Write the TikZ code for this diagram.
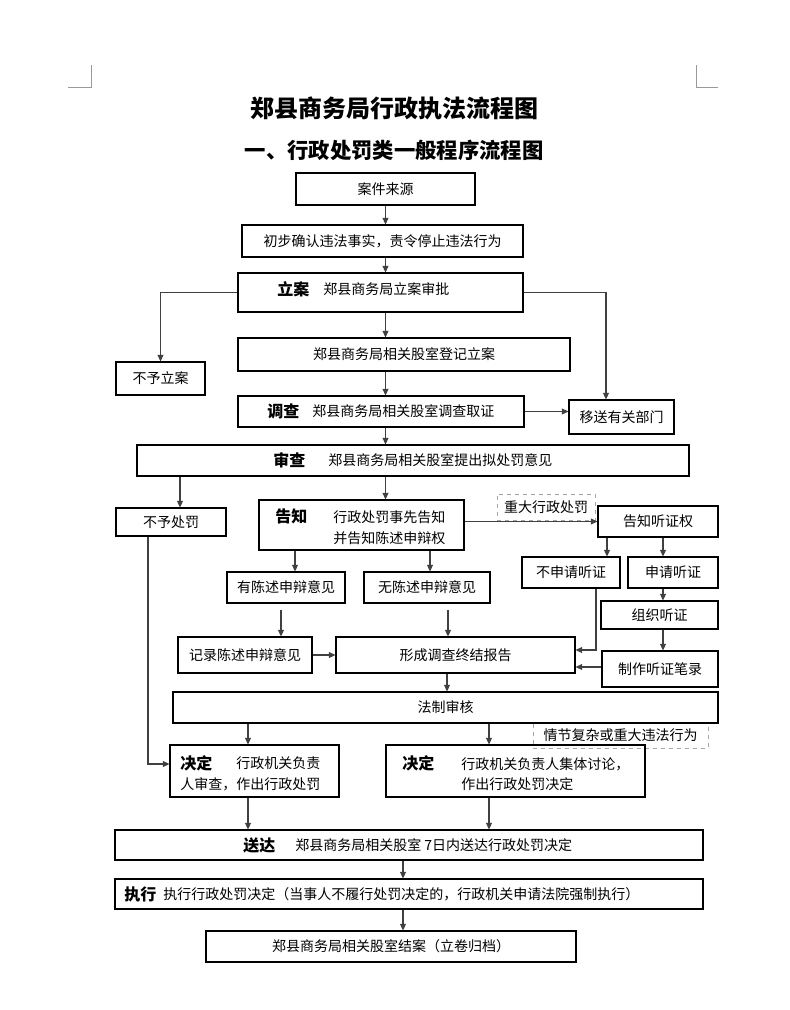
\documentclass[tikz,border=0pt]{standalone}
\usepackage{fontspec}
\newfontfamily\cjk{Noto Sans CJK SC}
\usetikzlibrary{arrows.meta, calc}

\tikzset{
  box/.style={draw, line width=0.8pt, inner sep=0pt, align=center, font=\cjk\fontsize{10.5}{15}\selectfont},
  dashbox/.style={draw=black!35, dashed, line width=0.5pt, inner sep=0pt, font=\cjk\fontsize{10.5}{15}\selectfont},
  sz/.style 2 args={minimum width=#1*0.75pt, minimum height=#2*0.75pt},
  tag/.style={font=\cjk\bfseries\fontsize{12}{14}\selectfont, inner sep=0pt, anchor=west},
  txt/.style={font=\cjk\fontsize{10.5}{15}\selectfont, inner sep=0pt, anchor=west},
  arr/.style={draw=black!75, line width=0.8pt, -{Triangle[length=5pt,width=4.5pt]}},
  ln/.style={draw=black!75, line width=0.8pt},
}

\begin{document}
\begin{tikzpicture}[x=0.75pt, y=-0.75pt]
\useasboundingbox (0,0) rectangle (789,1010);

% page corner marks
\draw[black!40, line width=0.5pt] (68,87) -- (91,87) -- (91,65);
\draw[black!40, line width=0.5pt] (696,65) -- (696,87) -- (718,87);

% titles
\node[font=\cjk\bfseries\fontsize{18}{20}\selectfont] (title) at (394,108) {郑县商务局行政执法流程图};
\node[font=\cjk\bfseries\fontsize{16}{18}\selectfont] (subtitle) at (394,150) {一、行政处罚类一般程序流程图};

% case filing
\node[box, sz={179}{32}] (src) at (385.5,189) {案件来源};
\node[box, sz={281}{32}] (confirm) at (382.5,241) {初步确认违法事实，责令停止违法行为};
\node[box, sz={285}{39}] (lian) at (380.5,292.5) {};
\node[tag] (lian-t) at (277,289) {立案};
\node[txt] (lian-x) at (323,289) {郑县商务局立案审批};
\node[box, sz={89}{33}] (buyulian) at (160.5,378.5) {不予立案};
\node[box, sz={332}{33}] (dengji) at (404,354.5) {郑县商务局相关股室登记立案};

% investigation
\node[box, sz={286}{31}] (diaocha) at (381,411.5) {};
\node[tag] (diaocha-t) at (267,411) {调查};
\node[txt] (diaocha-x) at (312,411) {郑县商务局相关股室调查取证};
\node[box, sz={105}{34}] (yisong) at (621.5,417) {移送有关部门};

% review
\node[box, sz={552}{31}] (shencha) at (413,460.5) {};
\node[tag] (shencha-t) at (273,460) {审查};
\node[txt] (shencha-x) at (328,460) {郑县商务局相关股室提出拟处罚意见};
\node[box, sz={110}{28}] (buyuchufa) at (171,522) {不予处罚};

% notification
\node[box, sz={205}{50}] (gaozhi) at (361.5,525) {};
\node[tag] (gaozhi-t) at (275,516) {告知};
\node[txt] (gaozhi-x1) at (333,517) {行政处罚事先告知};
\node[txt] (gaozhi-x2) at (333,538) {并告知陈述申辩权};
\node[box, sz={118}{31}] (you) at (286,587.5) {有陈述申辩意见};
\node[box, sz={126}{31}] (wu) at (427,587.5) {无陈述申辩意见};
\node[box, sz={134}{36}] (jilu) at (245,655) {记录陈述申辩意见};
\node[box, sz={239}{36}] (xc) at (455.5,655) {形成调查终结报告};

% hearing
\node[dashbox, sz={98}{26}] (zd) at (546,507) {重大行政处罚};
\node[box, sz={120}{31}] (tzq) at (658,521.5) {告知听证权};
\node[box, sz={98}{31}] (bsq) at (571,572.5) {不申请听证};
\node[box, sz={90}{31}] (sq) at (673,572.5) {申请听证};
\node[box, sz={117}{28}] (zuzhi) at (659.5,615) {组织听证};
\node[box, sz={116}{36}] (zhizuo) at (660,669) {制作听证笔录};

% legal check and decision
\node[dashbox, sz={175}{25}] (qj) at (620.5,735.5) {情节复杂或重大违法行为};
\node[box, fill=white, sz={545}{31}] (fazhi) at (445.5,707.5) {法制审核};
\node[box, sz={169}{52}] (jd1) at (254.5,771) {};
\node[tag] (jd1-t) at (180,763) {决定};
\node[txt] (jd1-x1) at (236,763) {行政机关负责};
\node[txt] (jd1-x2) at (180,784) {人审查，作出行政处罚};
\node[box, sz={259}{52}] (jd2) at (515.5,771) {};
\node[tag] (jd2-t) at (402,763) {决定};
\node[txt] (jd2-x1) at (461,764) {行政机关负责人集体讨论，};
\node[txt] (jd2-x2) at (461,784) {作出行政处罚决定};

% delivery, execution, closing
\node[box, sz={588}{30}] (songda) at (409,845) {};
\node[tag] (songda-t) at (243,845) {送达};
\node[txt] (songda-x) at (295,845) {郑县商务局相关股室 7日内送达行政处罚决定};
\node[box, sz={588}{30}] (zhixing) at (409,894) {};
\node[tag] (zhixing-t) at (124,894) {执行};
\node[txt] (zhixing-x) at (163,894) {执行行政处罚决定（当事人不履行处罚决定的，行政机关申请法院强制执行）};
\node[box, sz={370}{31}] (jiean) at (391,946.5) {郑县商务局相关股室结案（立卷归档）};

% main column
\draw[arr] (src.south) -- (src.south |- confirm.north);
\draw[arr] (confirm.south -| src) -- (lian.north -| src);
\draw[arr] (lian.south -| src) -- (dengji.north -| src);
\draw[arr] (dengji.south -| src) -- (diaocha.north -| src);
\draw[arr] (diaocha.south -| src) -- (shencha.north -| src);
\draw[arr] (shencha.south -| src) -- (gaozhi.north -| src);

% side branches
\draw[arr] (lian.west) -| (buyulian.north);
\draw[arr] (lian.east) -| ($(yisong.north)+(-15.5,0)$);
\draw[arr] (diaocha.east) -- (diaocha.east -| yisong.west);
\draw[arr] ($(buyuchufa.north |- shencha.south)+(9,0)$) -- ($(buyuchufa.north)+(9,0)$);

% statements
\draw[arr] ($(you.north |- gaozhi.south)+(9,0)$) -- ($(you.north)+(9,0)$);
\draw[arr] ($(wu.north |- gaozhi.south)+(3,0)$) -- ($(wu.north)+(3,0)$);
\draw[arr] ($(jilu.north |- you.south)+(36,6)$) -- ($(jilu.north)+(36,0)$);
\draw[arr] ($(xc.north |- wu.south)+(-7.5,6)$) -- ($(xc.north)+(-7.5,0)$);
\draw[arr] (jilu.east) -- (xc.west);

% hearing branch
\draw[arr] (tzq.west -| gaozhi.east) -- (tzq.west);
\draw[arr] ($(bsq.north |- tzq.south)+(36,0)$) -- ($(bsq.north)+(36,0)$);
\draw[arr] ($(sq.north |- tzq.south)+(-10,0)$) -- ($(sq.north)+(-10,0)$);
\draw[arr] ($(zuzhi.north |- sq.south)+(3.5,0)$) -- ($(zuzhi.north)+(3.5,0)$);
\draw[arr] ($(zhizuo.north |- zuzhi.south)+(3,0)$) -- ($(zhizuo.north)+(3,0)$);
\draw[arr] ($(bsq.south)+(25,0)$) |- ($(xc.east)+(0,-5)$);
\draw[arr] ($(zhizuo.west)+(0,-2)$) -- ($(xc.east |- zhizuo.west)+(0,-2)$);

% towards decisions
\draw[arr] ($(xc.south)+(-8.5,0)$) -- ($(xc.south |- fazhi.north)+(-8.5,0)$);
\draw[arr] ($(jd1.north |- fazhi.south)+(-6.5,0)$) -- ($(jd1.north)+(-6.5,0)$);
\draw[arr] ($(jd2.north |- fazhi.south)+(-26.5,0)$) -- ($(jd2.north)+(-26.5,0)$);
\draw[arr] ($(buyuchufa.south)+(-23,0)$) |- ($(jd1.west)+(0,-7)$);

% delivery and after
\draw[arr] ($(jd1.south)+(-6.5,0)$) -- ($(jd1.south |- songda.north)+(-6.5,0)$);
\draw[arr] ($(jd2.south)+(-26.5,0)$) -- ($(jd2.south |- songda.north)+(-26.5,0)$);
\draw[arr] ($(songda.south)+(-6,0)$) -- ($(songda.south |- zhixing.north)+(-6,0)$);
\draw[arr] ($(zhixing.south)+(-6,0)$) -- ($(zhixing.south |- jiean.north)+(-6,0)$);

\end{tikzpicture}
\end{document}
